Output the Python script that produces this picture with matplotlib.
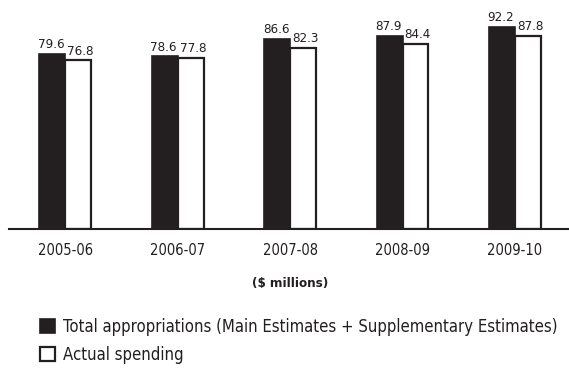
import numpy as np
import matplotlib.pyplot as plt

plt.rcParams['font.family'] = ['DejaVu Sans']
plt.rcParams['font.stretch'] = 'condensed'

years = ["2005-06", "2006-07", "2007-08", "2008-09", "2009-10"]
total_appropriations = [79.6, 78.6, 86.6, 87.9, 92.2]
actual_spending = [76.8, 77.8, 82.3, 84.4, 87.8]

ink = "#231f20"

fig = plt.figure(figsize=(5.69, 3.89), dpi=100)
ax = fig.add_axes([9 / 569, 1 - 229 / 389, 1 - 9 / 569, 219.5 / 389])

x = np.arange(len(years))
w = 0.23
b1 = ax.bar(x - w / 2, total_appropriations, w, color=ink, edgecolor=ink,
            linewidth=1.2, label="Total appropriations (Main Estimates + Supplementary Estimates)")
b2 = ax.bar(x + w / 2, actual_spending, w, color="white", edgecolor=ink,
            linewidth=1.6, label="Actual spending")

# value labels sit just above each bar
for xi, v in zip(x - w / 2, total_appropriations):
    ax.text(xi - 0.01, v + 1.3, f"{v:.1f}", ha="center", va="bottom", fontsize=9.5, color=ink)
for xi, v in zip(x + w / 2, actual_spending):
    ax.text(xi + 0.02, v + 1.3, f"{v:.1f}", ha="center", va="bottom", fontsize=9.5, color=ink)

ax.set_xlim(-0.5, 4.48)
ax.set_ylim(0, 100)
ax.set_xticks(x)
ax.set_xticklabels(years, fontsize=10.5, color=ink)
ax.tick_params(axis="x", length=0, pad=10)
ax.set_yticks([])
for s in ["top", "right", "left"]:
    ax.spines[s].set_visible(False)
ax.spines["bottom"].set_color(ink)
ax.spines["bottom"].set_linewidth(1.5)

fig.text(290 / 569, 1 - 284 / 389, "($ millions)", ha="center", va="center",
         fontsize=9.5, fontweight="bold", color=ink)

fig.legend(handles=[b1, b2], loc="upper left", bbox_to_anchor=(33 / 569, 1 - 311 / 389),
           frameon=False, fontsize=12, handlelength=0.9, handleheight=0.9,
           handletextpad=0.5, labelspacing=0.6, borderaxespad=0, labelcolor=ink)

fig.savefig("out.png", dpi=100)
